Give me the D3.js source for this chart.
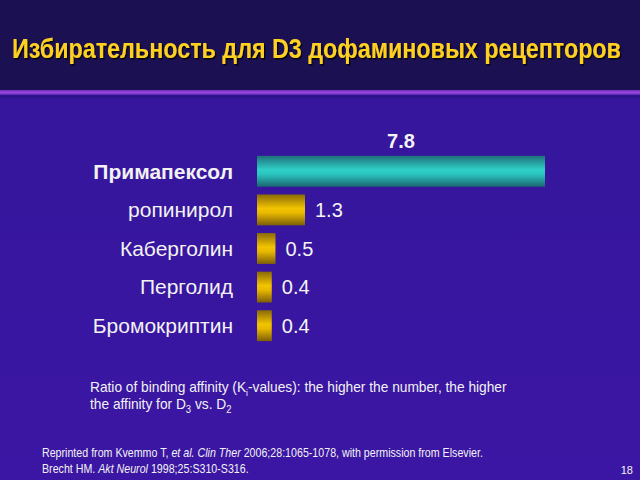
<!DOCTYPE html>
<html><head><meta charset="utf-8">
<script src="https://cdn.jsdelivr.net/npm/d3@7"></script>
<style>html,body{margin:0;padding:0;background:#3a17a2;}svg{display:block;}</style>
</head><body>
<script>
const categories = ["Примапексол","ропинирол","Каберголин","Перголид","Бромокриптин"];
const values = [7.8, 1.3, 0.5, 0.4, 0.4];
const valueLabels = ["7.8","1.3","0.5","0.4","0.4"];
const title = "Избирательность для D3 дофаминовых рецепторов";

const W = 640, H = 480;
const svg = d3.select("body").append("svg").attr("width", W).attr("height", H);
const defs = svg.append("defs");

const bodyG = defs.append("linearGradient").attr("id","bodyG").attr("x1",0).attr("y1",0).attr("x2",0).attr("y2",1);
bodyG.append("stop").attr("offset","0%").attr("stop-color","#34169a");
bodyG.append("stop").attr("offset","100%").attr("stop-color","#3b16a4");

const teal = defs.append("linearGradient").attr("id","teal").attr("x1",0).attr("y1",0).attr("x2",0).attr("y2",1);
teal.append("stop").attr("offset","0%").attr("stop-color","#1f6f7a");
teal.append("stop").attr("offset","45%").attr("stop-color","#2fd0c8");
teal.append("stop").attr("offset","60%").attr("stop-color","#2ac4bd");
teal.append("stop").attr("offset","100%").attr("stop-color","#1b6470");

const gold = defs.append("linearGradient").attr("id","gold").attr("x1",0).attr("y1",0).attr("x2",0).attr("y2",1);
gold.append("stop").attr("offset","0%").attr("stop-color","#8a6a08");
gold.append("stop").attr("offset","45%").attr("stop-color","#f2c400");
gold.append("stop").attr("offset","60%").attr("stop-color","#e8b800");
gold.append("stop").attr("offset","100%").attr("stop-color","#7c5e08");

const lineG = defs.append("linearGradient").attr("id","lineG").attr("x1",0).attr("y1",0).attr("x2",0).attr("y2",1);
lineG.append("stop").attr("offset","0%").attr("stop-color","#6a2cb8");
lineG.append("stop").attr("offset","50%").attr("stop-color","#9a48de");
lineG.append("stop").attr("offset","100%").attr("stop-color","#5a24b0");

const shadow = defs.append("filter").attr("id","shadow").attr("x","-5%").attr("y","-20%").attr("width","110%").attr("height","150%");
shadow.append("feDropShadow").attr("dx",1.5).attr("dy",1.5).attr("stdDeviation",0.6).attr("flood-color","#000").attr("flood-opacity",0.85);

// background
svg.append("rect").attr("width",W).attr("height",H).attr("fill","url(#bodyG)");
svg.append("rect").attr("width",W).attr("height",92).attr("fill","#1b1052");
svg.append("rect").attr("y",90).attr("width",W).attr("height",5).attr("fill","url(#lineG)");
svg.append("rect").attr("y",95).attr("width",W).attr("height",3).attr("fill","#2a1480").attr("opacity",0.7);

// helper: horizontally fit a group's text to a target width
function fit(g, x0, y0, target){
  const w = g.node().getBBox().width;
  const s = target / w;
  g.attr("transform", `translate(${x0},${y0}) scale(${s},1)`);
}

// title
const tg = svg.append("g");
tg.append("text").attr("x",0).attr("y",0).text(title)
  .attr("font-family","'Liberation Sans',Arial,sans-serif")
  .attr("font-weight","bold").attr("font-size",27).attr("fill","#fdd024")
  .attr("filter","url(#shadow)");
fit(tg, 12, 58, 609);

// scales
const y = d3.scaleBand().domain(categories).range([152, 345]).paddingInner(0.2).paddingOuter(0.1);
const x = d3.scaleLinear().domain([0, 7.8]).range([257, 545]);

const data = categories.map((c,i)=>({c, v: values[i], lab: valueLabels[i], i}));

// category axis (labels only)
const yAxis = d3.axisLeft(y).tickSize(0).tickPadding(0);
const ag = svg.append("g").attr("transform","translate(233,0)").call(yAxis);
ag.select(".domain").remove();
ag.selectAll("text")
  .attr("font-family","'Liberation Sans',Arial,sans-serif")
  .attr("font-size",21).attr("fill","#f2f2f2")
  .attr("font-weight",(d,i)=> i===0 ? "bold" : "normal")
  .attr("dy","0.35em");

// bars
svg.selectAll("rect.bar").data(data).enter().append("rect").attr("class","bar")
  .attr("x", x(0)).attr("y", d=>y(d.c))
  .attr("width", d=>x(d.v)-x(0)).attr("height", y.bandwidth())
  .attr("fill", d=> d.i===0 ? "url(#teal)" : "url(#gold)");

// value labels
svg.selectAll("text.val").data(data).enter().append("text").attr("class","val")
  .attr("font-family","'Liberation Sans',Arial,sans-serif")
  .attr("fill","#f4f4f4")
  .attr("font-size", 20)
  .attr("font-weight", d=> d.i===0 ? "bold" : "normal")
  .attr("text-anchor", d=> d.i===0 ? "middle" : "start")
  .attr("x", d=> d.i===0 ? (x(0)+x(d.v))/2 + 0 : x(d.v)+10)
  .attr("y", d=> d.i===0 ? y(d.c)-8 : y(d.c)+y.bandwidth()/2)
  .attr("dy", d=> d.i===0 ? 0 : "0.35em")
  .text(d=>d.lab);

// caption
const cap = svg.append("g").attr("font-family","'Liberation Sans',Arial,sans-serif").attr("font-size",14.5).attr("fill","#f2f2f2");
const t1 = cap.append("text").attr("x",0).attr("y",0);
t1.append("tspan").text("Ratio of binding affinity (K");
t1.append("tspan").attr("font-size",9).attr("dy",4).text("i");
t1.append("tspan").attr("dy",-4).text("-values): the higher the number, the higher");
const t2 = cap.append("text").attr("x",0).attr("y",17);
t2.append("tspan").text("the affinity for D");
t2.append("tspan").attr("font-size",10).attr("dy",4).text("3");
t2.append("tspan").attr("dy",-4).text(" vs. D");
t2.append("tspan").attr("font-size",10).attr("dy",4).text("2");
fit(cap, 90, 392, 417);

// footer
const ft = svg.append("g").attr("font-family","'Liberation Sans',Arial,sans-serif").attr("font-size",12.5).attr("fill","#f2f2f2");
const f1 = ft.append("text").attr("x",0).attr("y",0);
f1.append("tspan").text("Reprinted from Kvemmo T, ");
f1.append("tspan").attr("font-style","italic").text("et al. Clin Ther");
f1.append("tspan").text(" 2006;28:1065-1078, with permission from Elsevier.");
const f2 = ft.append("text").attr("x",0).attr("y",16);
f2.append("tspan").text("Brecht HM. ");
f2.append("tspan").attr("font-style","italic").text("Akt Neurol");
f2.append("tspan").text(" 1998;25:S310-S316.");
fit(ft, 42, 457, 441);

svg.append("text").attr("x",633).attr("y",474).attr("text-anchor","end")
  .attr("font-family","'Liberation Sans',Arial,sans-serif").attr("font-size",11).attr("fill","#f2f2f2").text("18");
</script>
</body></html>
